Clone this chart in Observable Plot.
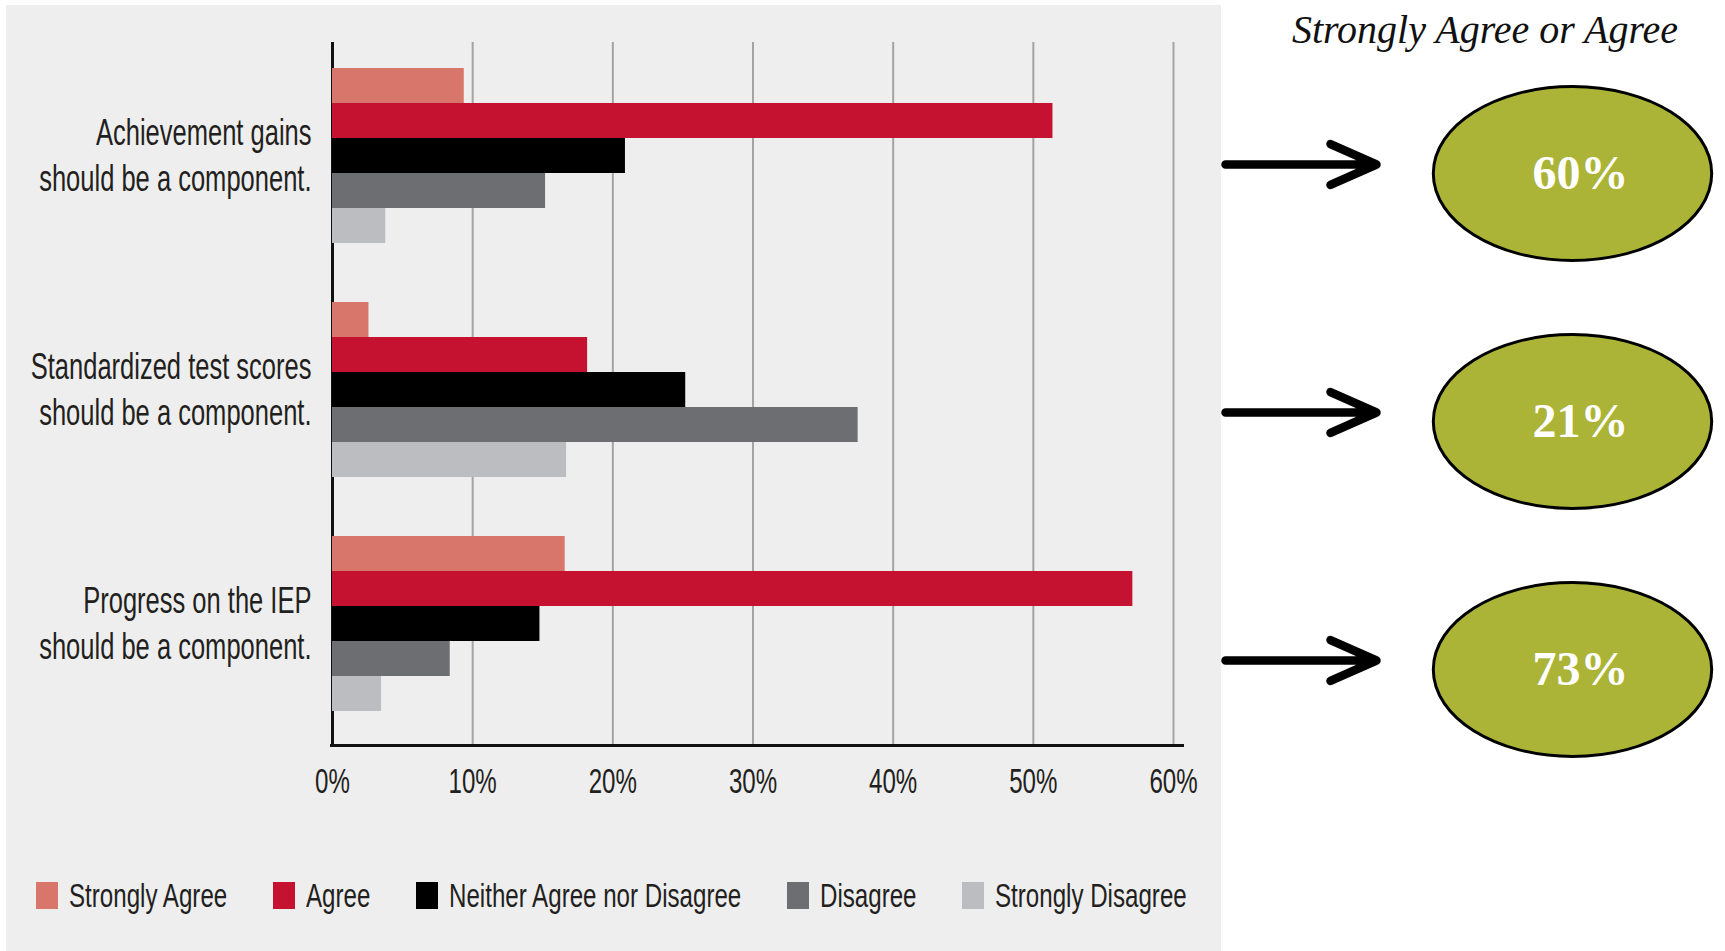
<!DOCTYPE html>
<html>
<head>
<meta charset="utf-8">
<script src="https://cdn.jsdelivr.net/npm/d3@7"></script>
<script src="https://cdn.jsdelivr.net/npm/@observablehq/plot@0.6"></script>
<style>
  html, body { margin: 0; padding: 0; background: #ffffff; }
  #root { position: relative; width: 1725px; height: 951px; overflow: hidden; background: #ffffff; }
  #panel { position: absolute; left: 6px; top: 5px; width: 1215px; height: 946px; background: #eeeeee; }
  .layer { position: absolute; left: 0; top: 0; }
  #right { position: absolute; left: 1221px; top: 0; }
  #title { position: absolute; left: 1221px; width: 528px; top: 10px; text-align: center;
           font-family: 'Liberation Serif', 'DejaVu Serif', serif; font-style: italic; font-size: 40px; line-height: 40px; color: #111; }
  #legend { position: absolute; left: 36px; top: 882px; width: 1151px; display: flex; justify-content: space-between;
            font-family: 'Liberation Sans', Arial, sans-serif; font-size: 33.5px; color: #231f20; }
  #legend .item { display: flex; align-items: center; gap: 11px; height: 27px; }
  #legend .sw { width: 22px; height: 27px; display: inline-block; }
  #legend .lab { display: inline-block; line-height: 27px; white-space: nowrap; }
  #legend .inner { display: inline-block; transform-origin: 0 50%; white-space: nowrap; }
</style>
</head>
<body>
<div id="root">
  <div id="panel"></div>
  <div id="grid" class="layer"></div>
  <div id="bars" class="layer"></div>
  <div id="legend"></div>
  <div id="title">Strongly Agree or Agree</div>
  <div id="right"></div>
</div>
<script>
// ---- data ----
const statements = [
  "Achievement gains\nshould be a component.",
  "Standardized test scores\nshould be a component.",
  "Progress on the IEP\nshould be a component."
];
const responses = ["Strongly Agree", "Agree", "Neither Agree nor Disagree", "Disagree", "Strongly Disagree"];
const achievementValues = [9.4, 51.4, 20.9, 15.2, 3.8];
const standardizedValues = [2.6, 18.2, 25.2, 37.5, 16.7];
const iepValues = [16.6, 57.1, 14.8, 8.4, 3.5];
const agreeShares = [60, 21, 73];
const xTicks = [0, 10, 20, 30, 40, 50, 60];
const responseColors = ["#d9766b", "#c41230", "#000000", "#6d6e71", "#bcbdc1"];

const FONT = "'Liberation Sans', Arial, sans-serif";
const LEGEND_SQUASH = 0.72; // the reference uses a tall, condensed face
const seriesByStatement = [achievementValues, standardizedValues, iepValues];
const rows = statements.flatMap((s, i) => responses.map((r, j) => ({statement: s, response: r, value: seriesByStatement[i][j]})));
const shares = statements.map((s, i) => ({statement: s, share: agreeShares[i]}));

// horizontally condense every text of an svg, keeping its anchor point fixed
function condenseText(svg, s) {
  svg.querySelectorAll("text").forEach(t => {
    const anchor = getComputedStyle(t).textAnchor;
    const bb = t.getBBox();
    let ax = anchor === "end" ? bb.x + bb.width : anchor === "middle" ? bb.x + bb.width / 2 : bb.x;
    const c = t.transform && t.transform.baseVal.consolidate();
    if (c) ax = c.matrix.a * ax + c.matrix.c * bb.y + c.matrix.e;
    const g = document.createElementNS("http://www.w3.org/2000/svg", "g");
    g.setAttribute("transform", `translate(${ax},0) scale(${s},1) translate(${-ax},0)`);
    t.parentNode.insertBefore(g, t);
    g.appendChild(t);
  });
}

// ---- grid, axes and tick labels ----
const gridPlot = Plot.plot({
  width: 1221, height: 800,
  marginLeft: 330, marginRight: 37, marginTop: 42, marginBottom: 55,
  x: {domain: [0, 60], range: [332, 1173], ticks: xTicks, tickFormat: d => d + "%", tickSize: 0, tickPadding: 22, label: null},
  y: {domain: [0, 1], axis: null},
  style: {background: "transparent", fontFamily: FONT, fontSize: "36px", color: "#231f20", overflow: "visible"},
  marks: [
    Plot.ruleX(xTicks.filter(d => d > 0), {stroke: "#a3a3a3", strokeWidth: 2}),
    Plot.ruleX([0], {stroke: "#111111", strokeWidth: 3}),
    Plot.ruleY([0], {stroke: "#111111", strokeWidth: 3})
  ]
});
document.getElementById("grid").append(gridPlot);
condenseText(gridPlot, 0.67);

// ---- grouped bars ----
const barPlot = Plot.plot({
  width: 1221, height: 800,
  marginLeft: 332, marginRight: 37, marginTop: 66, marginBottom: 88,
  x: {domain: [0, 60], range: [332, 1173], axis: null},
  y: {domain: responses, padding: 0, axis: null},
  fy: {domain: statements, paddingInner: 0.25, paddingOuter: 0, axis: null},
  color: {domain: responses, range: responseColors},
  facet: {data: rows, y: "statement"},
  style: {background: "transparent", fontFamily: FONT, fontSize: "37px", color: "#231f20", overflow: "visible"},
  marks: [
    Plot.barX(rows, {x1: 0, x2: "value", y: "response", fill: "response"}),
    Plot.text(rows, {
      filter: d => d.response === responses[2],
      y: "response", text: "statement",
      frameAnchor: "left", textAnchor: "end", dx: -21, dy: -3,
      lineHeight: 1.25, fontSize: 37, fill: "#231f20"
    })
  ]
});
document.getElementById("bars").append(barPlot);
condenseText(barPlot, 0.69);

// ---- legend ----
const legend = d3.select("#legend");
responses.forEach((r, i) => {
  const item = legend.append("div").attr("class", "item");
  item.append("span").attr("class", "sw").style("background", responseColors[i]);
  item.append("span").attr("class", "lab").append("span").attr("class", "inner").text(r);
});
legend.selectAll(".lab").each(function() {
  const inner = this.firstChild;
  const w = inner.offsetWidth;
  inner.style.transform = `scaleX(${LEGEND_SQUASH})`;
  this.style.width = (w * LEGEND_SQUASH) + "px";
});

// ---- right panel: arrows and ellipses ----
const ellipseSymbol = {
  draw(context, size) {
    const ry = Math.sqrt(size / Math.PI), rx = ry * 1.6, k = 0.5523;
    context.moveTo(rx, 0);
    context.bezierCurveTo(rx, k * ry, k * rx, ry, 0, ry);
    context.bezierCurveTo(-k * rx, ry, -rx, k * ry, -rx, 0);
    context.bezierCurveTo(-rx, -k * ry, -k * rx, -ry, 0, -ry);
    context.bezierCurveTo(k * rx, -ry, rx, -k * ry, rx, 0);
    context.closePath();
  }
};
const rightPlot = Plot.plot({
  width: 504, height: 951,
  marginLeft: 198, marginRight: 0, marginTop: 0, marginBottom: 0,
  x: {domain: [0, 1], range: [4, 155], axis: null},
  y: {type: "point", domain: statements, range: [164, 660], padding: 0, axis: null},
  style: {background: "transparent", overflow: "visible"},
  marks: [
    Plot.arrow(shares, {x1: 0, x2: 1, y1: "statement", y2: "statement", stroke: "#000000", strokeWidth: 8.5,
      headLength: 12, headAngle: 48, bend: 0, strokeLinecap: "round", strokeLinejoin: "miter"}),
    Plot.dot(shares, {y: "statement", dy: 9, r: 87, symbol: ellipseSymbol, fill: "#abb436", stroke: "#000000", strokeWidth: 3}),
    Plot.text(shares, {y: "statement", dy: 9, dx: 8, text: d => d.share + "%", fill: "#ffffff",
      fontSize: 48, fontWeight: "bold", fontFamily: "'Liberation Serif', 'DejaVu Serif', serif"})
  ]
});
document.getElementById("right").append(rightPlot);
</script>
</body>
</html>
